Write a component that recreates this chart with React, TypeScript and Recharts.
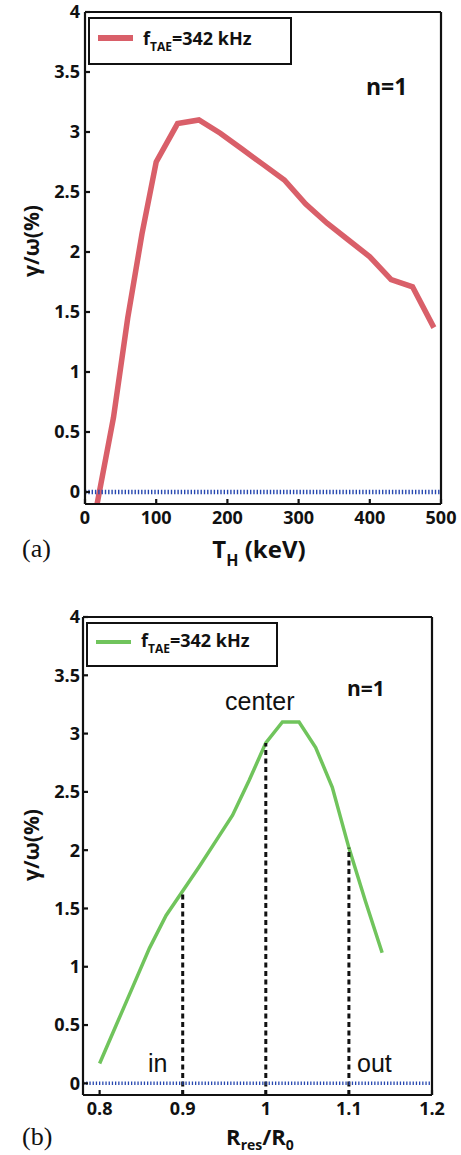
import { LineChart, Line, XAxis, YAxis, ReferenceLine } from 'recharts';

// (a) growth rate vs hot-ion temperature
const TH_KEV = [17, 40, 60, 80, 100, 130, 160, 190, 220, 250, 280, 310, 340, 370, 400, 430, 460, 490];
const GAMMA_A = [-0.1, 0.62, 1.45, 2.15, 2.75, 3.07, 3.1, 2.99, 2.86, 2.73, 2.6, 2.4, 2.24, 2.1, 1.96, 1.77, 1.71, 1.37];

// (b) growth rate vs resonance radius
const R_RATIO = [0.8, 0.82, 0.84, 0.86, 0.88, 0.9, 0.92, 0.94, 0.96, 0.98, 1.0, 1.02, 1.04, 1.06, 1.08, 1.1, 1.12, 1.14];
const GAMMA_B = [0.17, 0.5, 0.83, 1.16, 1.44, 1.65, 1.86, 2.08, 2.3, 2.6, 2.92, 3.1, 3.1, 2.88, 2.54, 2.02, 1.56, 1.12];
const MARK_R = [0.9, 1.0, 1.1];

const X_TICKS_A = [0, 100, 200, 300, 400, 500];
const X_TICKS_B = [0.8, 0.9, 1, 1.1, 1.2];
const Y_TICKS = [0, 0.5, 1, 1.5, 2, 2.5, 3, 3.5, 4];
const Y_DOMAIN: [number, number] = [-0.1, 4];

const INK = '#111';
const RED = '#d95f69';
const GREEN = '#70c45c';
const BLUE = '#2748b0';
const SANS = '"Open Sans", "DejaVu Sans", sans-serif';
const ARIAL = '"Liberation Sans", Arial, sans-serif';
const SERIF = '"Liberation Serif", "Times New Roman", serif';

const tickFont = { fill: INK, fontSize: 18, fontWeight: 700, fontFamily: SANS };
const axisLine = { stroke: INK, strokeWidth: 2.2 };
const tickLine = { stroke: INK, strokeWidth: 2.2 };

const dataA = TH_KEV.map((t, i) => ({ t, g: GAMMA_A[i] }));
const dataB = R_RATIO.map((r, i) => ({ r, g: GAMMA_B[i] }));

function LegendBox({ left, top, width, height, color, thick, textTop }: any) {
  return (
    <>
      <div
        style={{
          position: 'absolute',
          left,
          top,
          width,
          height,
          border: `2px solid ${INK}`,
          background: '#fff',
          boxSizing: 'border-box',
        }}
      />
      <div
        style={{
          position: 'absolute',
          left: left + 10,
          top: top + height / 2 - thick / 2 - 3,
          width: 35,
          height: thick,
          background: color,
        }}
      />
      <div
        style={{
          position: 'absolute',
          left: left + 55,
          top: textTop,
          fontFamily: SANS,
          fontWeight: 700,
          fontSize: 18,
          lineHeight: '18px',
          whiteSpace: 'nowrap',
          color: INK,
        }}
      >
        f<span style={{ fontSize: 12, position: 'relative', top: 6, lineHeight: 0 }}>TAE</span>=342 kHz
      </div>
    </>
  );
}

function Txt({ left, top, size, weight = 400, family = SANS, children, center = false }: any) {
  return (
    <div
      style={{
        position: 'absolute',
        left,
        top,
        fontSize: size,
        lineHeight: `${size}px`,
        fontWeight: weight,
        fontFamily: family,
        color: INK,
        whiteSpace: 'nowrap',
        transform: center ? 'translateX(-50%)' : undefined,
      }}
    >
      {children}
    </div>
  );
}

function YTitle({ cx, cy }: any) {
  return (
    <div
      style={{
        position: 'absolute',
        left: cx,
        top: cy,
        transform: 'translate(-50%, -50%) rotate(-90deg)',
        fontFamily: SANS,
        fontWeight: 700,
        fontSize: 21,
        lineHeight: '21px',
        whiteSpace: 'nowrap',
        color: INK,
      }}
    >
      γ/ω(%)
    </div>
  );
}

const subA = { fontSize: 16, position: 'relative' as const, top: 8, lineHeight: 0 };
const subB = { fontSize: 14, position: 'relative' as const, top: 5, lineHeight: 0 };

export default function App() {
  return (
    <div style={{ position: 'absolute', left: 0, top: 0, width: 461, height: 1155, background: '#fff', overflow: 'hidden' }}>
      <div style={{ position: 'absolute', left: 0, top: 0 }}>
        <LineChart width={461} height={545} data={dataA} margin={{ top: 0, right: 0, bottom: 0, left: 0 }}>
          <XAxis
            xAxisId="b"
            dataKey="t"
            type="number"
            domain={[0, 500]}
            ticks={X_TICKS_A}
            allowDataOverflow
            height={41}
            tickSize={-5}
            tickMargin={12}
            axisLine={axisLine}
            tickLine={tickLine}
            tick={tickFont}
          />
          <XAxis
            xAxisId="t"
            orientation="top"
            dataKey="t"
            type="number"
            domain={[0, 500]}
            ticks={X_TICKS_A}
            allowDataOverflow
            height={12}
            tickSize={-5}
            axisLine={axisLine}
            tickLine={tickLine}
            tick={false}
          />
          <YAxis
            yAxisId="l"
            type="number"
            domain={Y_DOMAIN}
            ticks={Y_TICKS}
            allowDataOverflow
            width={85}
            tickSize={-5}
            tickMargin={10}
            axisLine={axisLine}
            tickLine={tickLine}
            tick={tickFont}
          />
          <YAxis
            yAxisId="r"
            orientation="right"
            type="number"
            domain={Y_DOMAIN}
            ticks={Y_TICKS}
            allowDataOverflow
            width={20}
            tickSize={-5}
            axisLine={axisLine}
            tickLine={tickLine}
            tick={false}
          />
          <Line
            xAxisId="b"
            yAxisId="l"
            dataKey="g"
            type="linear"
            stroke={RED}
            strokeWidth={5.5}
            dot={false}
            isAnimationActive={false}
          />
          <ReferenceLine xAxisId="b" yAxisId="l" y={0} stroke={BLUE} strokeWidth={4.5} strokeDasharray="1.4 1.9" />
        </LineChart>
      </div>

      <LegendBox left={88} top={17} width={204} height={48} color={RED} thick={6} textTop={29} />
      <Txt left={366} top={75} size={23} weight={700}>n=1</Txt>
      <YTitle cx={31} cy={241} />
      <Txt left={259} top={537} size={24} weight={700} center>
        T<span style={subA}>H</span> (keV)
      </Txt>
      <Txt left={22} top={536} size={26} family={SERIF}>(a)</Txt>

      <div style={{ position: 'absolute', left: 0, top: 600 }}>
        <LineChart width={461} height={555} data={dataB} margin={{ top: 0, right: 0, bottom: 0, left: 0 }}>
          <XAxis
            xAxisId="b"
            dataKey="r"
            type="number"
            domain={[0.78, 1.2]}
            ticks={X_TICKS_B}
            allowDataOverflow
            height={60}
            tickSize={-5}
            tickMargin={12}
            axisLine={axisLine}
            tickLine={tickLine}
            tick={tickFont}
          />
          <XAxis
            xAxisId="t"
            orientation="top"
            dataKey="r"
            type="number"
            domain={[0.78, 1.2]}
            ticks={X_TICKS_B}
            allowDataOverflow
            height={17}
            tickSize={-5}
            axisLine={axisLine}
            tickLine={tickLine}
            tick={false}
          />
          <YAxis
            yAxisId="l"
            type="number"
            domain={Y_DOMAIN}
            ticks={Y_TICKS}
            allowDataOverflow
            width={83}
            tickSize={-5}
            tickMargin={8}
            axisLine={axisLine}
            tickLine={tickLine}
            tick={tickFont}
          />
          <YAxis
            yAxisId="r"
            orientation="right"
            type="number"
            domain={Y_DOMAIN}
            ticks={Y_TICKS}
            allowDataOverflow
            width={29}
            tickSize={-5}
            axisLine={axisLine}
            tickLine={tickLine}
            tick={false}
          />
          <Line
            xAxisId="b"
            yAxisId="l"
            dataKey="g"
            type="linear"
            stroke={GREEN}
            strokeWidth={3.5}
            dot={false}
            isAnimationActive={false}
          />
          {MARK_R.map((r) => {
            const i = R_RATIO.findIndex((v) => Math.abs(v - r) < 1e-9);
            return (
              <ReferenceLine
                key={r}
                xAxisId="b"
                yAxisId="l"
                segment={[
                  { x: r, y: Y_DOMAIN[0] },
                  { x: r, y: GAMMA_B[i] },
                ]}
                stroke={INK}
                strokeWidth={3}
                strokeDasharray="5 3.5"
              />
            );
          })}
          <ReferenceLine xAxisId="b" yAxisId="l" y={0} stroke={BLUE} strokeWidth={3.5} strokeDasharray="1.3 1.9" />
        </LineChart>
      </div>

      <LegendBox left={86} top={622} width={192} height={45} color={GREEN} thick={4} textTop={631} />
      <Txt left={347} top={678} size={21} weight={700}>n=1</Txt>
      <Txt left={225} top={689} size={25} family={ARIAL}>center</Txt>
      <Txt left={148} top={1051} size={25} family={ARIAL}>in</Txt>
      <Txt left={357} top={1051} size={25} family={ARIAL}>out</Txt>
      <YTitle cx={31} cy={845} />
      <Txt left={260} top={1125} size={22} weight={700} center>
        R<span style={subB}>res</span>/R<span style={subB}>0</span>
      </Txt>
      <Txt left={22} top={1124} size={26} family={SERIF}>(b)</Txt>
    </div>
  );
}
